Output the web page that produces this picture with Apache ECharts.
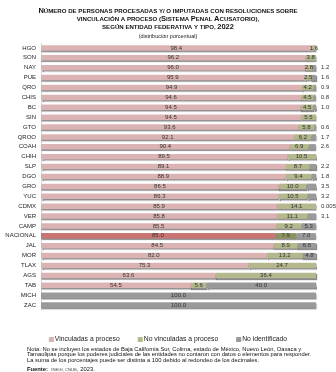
<!DOCTYPE html>
<html><head><meta charset="utf-8">
<script src="https://cdn.jsdelivr.net/npm/echarts@6/dist/echarts.min.js"></script>
<style>html,body{margin:0;padding:0;background:#fff}#c{width:336px;height:372px}</style>
</head><body><div id="c"></div>
<script>
const categories = ["HGO","SON","NAY","PUE","QRO","CHIS","BC","SIN","GTO","QROO","COAH","CHIH","SLP","DGO","GRO","YUC","CDMX","VER","CAMP","NACIONAL","JAL","MOR","TLAX","AGS","TAB","MICH","ZAC"];
const vinculadas = [98.4,96.2,96.0,95.9,94.9,94.6,94.5,94.5,93.6,92.1,90.4,89.5,89.1,88.9,86.5,86.3,85.9,85.8,85.5,85.0,84.5,82.0,75.3,63.6,54.5,0,0];
const noVinculadas = [1.6,3.8,2.8,2.5,4.2,4.5,4.5,5.5,5.8,6.2,6.9,10.5,8.7,9.4,10.0,10.5,14.1,11.1,9.2,7.9,8.9,13.2,24.7,36.4,5.6,0,0];
const noIdentificado = [0,0,1.2,1.6,0.9,0.8,1.0,0,0.6,1.7,2.6,0,2.2,1.8,3.5,3.2,0.005,3.1,5.3,7.0,6.6,4.8,0,0,40.0,100.0,100.0];
const seriesNames = ["Vinculadas a proceso","No vinculadas a proceso","No identificado"];

const colors = ["#dcb3b3","#b4b88c","#9a9a9a"];
const natColors = ["#cc7473","#8c9160","#9a9a9a"];
const fmt = v => v === 0 ? '' : (v < 0.1 ? String(v) : v.toFixed(1));

function build(arr, idx) {
  return arr.map((v, i) => {
    const item = { value: v };
    if (categories[i] === 'NACIONAL') item.itemStyle = { color: natColors[idx] };
    if (idx === 2) item.label = { position: v >= 4 ? 'inside' : 'right', distance: 5 };
    return item;
  });
}

const chart = echarts.init(document.getElementById('c'), null, { renderer: 'canvas' });
const mk = (name, arr, idx) => ({
  name, type: 'bar', stack: 'a', barWidth: 5.5, data: build(arr, idx),
  itemStyle: { color: colors[idx], shadowColor: 'rgba(0,0,0,0.45)', shadowOffsetY: 1.5, shadowOffsetX: 0.5, shadowBlur: 1 },
  label: { show: true, position: 'inside', fontSize: 6, color: '#333', fontFamily: 'Liberation Sans',
           formatter: p => fmt(p.value) },
  emphasis: { disabled: true }, animation: false
});
chart.setOption({
  animation: false,
  title: {
    left: 'center', top: 2, itemGap: 2,
    text: '{b|N}{s|ÚMERO DE PERSONAS PROCESADAS Y/ O IMPUTADAS CON RESOLUCIONES SOBRE}\n{s|VINCULACIÓN A PROCESO (}{b|S}{s|ISTEMA }{b|P}{s|ENAL }{b|A}{s|CUSATORIO),}\n{s|SEGÚN ENTIDAD FEDERATIVA Y TIPO, }{b|2022}',
    textStyle: { rich: {
      b: { fontSize: 7.5, fontWeight: 'bold', fontFamily: 'Liberation Sans', color: '#111', lineHeight: 8 },
      s: { fontSize: 6.1, fontWeight: 'bold', fontFamily: 'Liberation Sans', color: '#111', lineHeight: 8 }
    }},
    subtext: '(distribución porcentual)',
    subtextStyle: { fontSize: 5.5, color: '#222', fontFamily: 'Liberation Sans' }
  },
  legend: {
    top: 331, left: 'center', itemWidth: 5, itemHeight: 5, itemGap: 18,
    icon: 'rect',
    textStyle: { fontSize: 6.8, color: '#222', fontFamily: 'Liberation Sans', padding: [0, 0, 0, -4] },
    data: seriesNames
  },
  grid: { left: 41, right: 20, top: 43, bottom: 62 },
  xAxis: { type: 'value', min: 0, max: 100, show: false },
  yAxis: {
    type: 'category', data: categories, inverse: true,
    axisLine: { show: true, lineStyle: { color: '#d8d8d8' } },
    axisTick: { show: false },
    axisLabel: { fontSize: 6, color: '#222', fontFamily: 'Liberation Sans', margin: 5 }
  },
  series: [ mk(seriesNames[0], vinculadas, 0), mk(seriesNames[1], noVinculadas, 1), mk(seriesNames[2], noIdentificado, 2) ],
  graphic: [{
    type: 'text', left: 27, top: 346,
    style: {
      text: '{n|Nota: No se incluyen los estados de Baja California Sur, Colima, estado de México, Nuevo León, Oaxaca y}\n{n|Tamaulipas porque los poderes judiciales de las entidades no contaron con datos o elementos para responder.}\n{n|La suma de los porcentajes puede ser distinta a 100 debido al redondeo de los decimales.}\n{f|Fuente:} {t|INEGI, CNIJE}{n|, 2023.}',
      rich: {
        n: { fontSize: 5.8, fontFamily: 'Liberation Sans', fill: '#111', lineHeight: 5.8 },
        f: { fontSize: 5.8, fontFamily: 'Liberation Sans', fontWeight: 'bold', fill: '#111', lineHeight: 5.8 },
        t: { fontSize: 4.2, fontFamily: 'Liberation Sans', fill: '#444', lineHeight: 5.8 }
      }
    }
  }]
});
</script></body></html>
